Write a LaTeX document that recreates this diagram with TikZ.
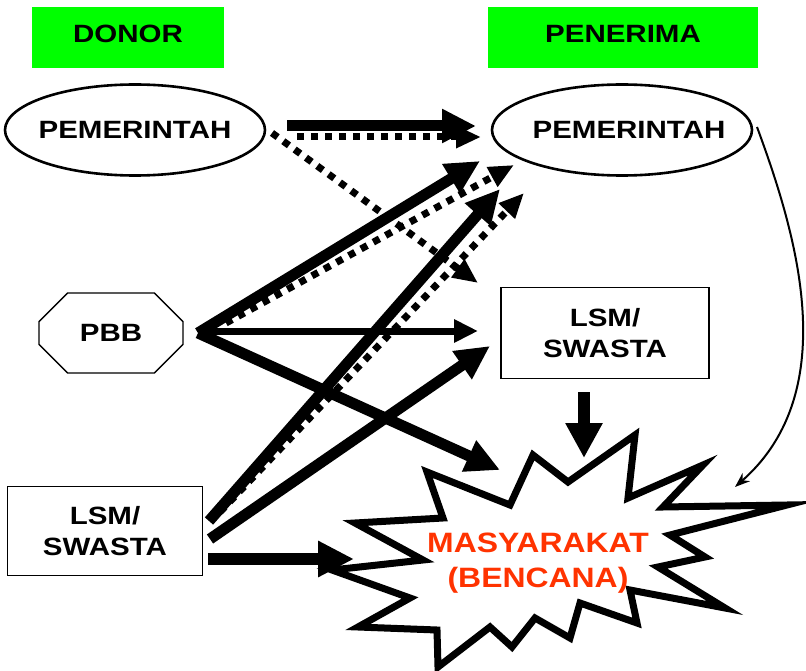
\documentclass[tikz,border=0pt]{standalone}
\usepackage{fontspec}
\setmainfont{Liberation Sans}[FakeStretch=1.18]
\newfontfamily\burstfont{Liberation Sans}[FakeStretch=1.14]
\usetikzlibrary{arrows.meta,shapes.geometric,shapes.misc}
\definecolor{hdrgreen}{RGB}{0,255,0}
\definecolor{disaster}{RGB}{255,51,0}
\begin{document}
\begin{tikzpicture}[x=1pt,y=-1pt,
  lbl/.style={font=\fontsize{25}{31}\selectfont\bfseries, align=center, inner sep=0pt},
  hdr/.style={lbl, fill=hdrgreen, minimum height=61pt, text depth=8pt},
  oval/.style={lbl, draw, ellipse, line width=2.6pt, minimum width=260pt, minimum height=91pt},
  box/.style={lbl, draw, line width=1.4pt},
  bigarrow/.style={line width=11pt, -{Triangle[length=34pt,width=32pt]}},
  midarrow/.style={line width=7pt, -{Triangle[length=24pt,width=22pt]}},
  dotarrow/.style={line width=7pt, dash pattern=on 7pt off 7pt, -{Triangle[length=25pt,width=21pt]}},
  thinarrow/.style={line width=2pt, -{Stealth[length=15pt,width=11pt]}},
  burst/.style={line width=7pt, fill=white, line join=miter}
]
\useasboundingbox (0,0) rectangle (806,671);

% headers
\node[hdr, minimum width=192pt] (donor) at (128,37.5) {DONOR};
\node[hdr, minimum width=270pt] (penerima) at (623,37.5) {PENERIMA};

% donor side
\node[oval] (pemL) at (135,130) {\makebox[150pt]{PEMERINTAH}};
\node[lbl, draw, line width=1.4pt, chamfered rectangle,
      chamfered rectangle xsep=23pt, chamfered rectangle ysep=20pt,
      minimum width=144pt, minimum height=80pt] (pbb) at (111,333) {PBB};
\node[box, minimum width=195pt, minimum height=89pt] (lsmL) at (105,531) {LSM/\\SWASTA};

% receiving side
\node[oval] (pemR) at (622,130) {\makebox[150pt]{\hspace*{14pt}PEMERINTAH}};
\node[box, minimum width=208pt, minimum height=91pt] (lsmR) at (605,333) {LSM/\\SWASTA};

% the affected community
\draw[burst] (355,523) -- (443,518) -- (427,472) -- (510,505) -- (533,455)
  -- (568,482) -- (635,435) -- (628,498) -- (703,465) -- (663,507)
  -- (787,505) -- (670,535) -- (705,557) -- (658,567) -- (725,608)
  -- (630,590) -- (637,623) -- (580,603) -- (570,638) -- (535,618)
  -- (512,647) -- (490,627) -- (438,667) -- (437,630) -- (358,627)
  -- (410,598) -- (332,570) -- (423,560) -- cycle;
\node[font=\fontsize{28}{35}\burstfont\bfseries, text=disaster, align=center, inner sep=0pt]
  (masy) at (538,563) {MASYARAKAT\\(BENCANA)};

% connector end points
\coordinate (gS1) at (287,126);  \coordinate (gT1) at (476,126);
\coordinate (gS2) at (297,137);  \coordinate (gT2) at (481,137);
\coordinate (gS3) at (272,133);  \coordinate (gT3) at (478,283);
\coordinate (pS)  at (198,333);
\coordinate (pT1) at (480,161);
\coordinate (pS2) at (226,323);  \coordinate (pT2) at (514,165);
\coordinate (pS3) at (205,331);  \coordinate (pT3) at (478,331);
\coordinate (pT4) at (500,470);
\coordinate (lS1) at (209,521);  \coordinate (lT1) at (500,189);
\coordinate (lS2) at (220,512);  \coordinate (lT2) at (524,193);
\coordinate (lS3) at (210,539);  \coordinate (lT3) at (490,346);
\coordinate (lS4) at (208,559);  \coordinate (lT4) at (354,559);
\coordinate (rS)  at (584,392);  \coordinate (rT)  at (584,458);
\coordinate (cS)  at (757,127);  \coordinate (cT)  at (735,487);

% government donor
\draw[bigarrow] (gS1) -- (gT1);
\draw[dotarrow] (gS2) -- (gT2);
\draw[dotarrow] (gS3) -- (gT3);

% UN agencies
\draw[bigarrow] (pS) -- (pT1);
\draw[dotarrow] (pS2) -- (pT2);
\draw[midarrow] (pS3) -- (pT3);
\draw[bigarrow] (pS) -- (pT4);

% NGO / private donor
\draw[bigarrow] (lS1) -- (lT1);
\draw[dotarrow] (lS2) -- (lT2);
\draw[bigarrow] (lS3) -- (lT3);
\draw[line width=12pt, -{Triangle[length=36pt,width=34pt]}] (lS4) -- (lT4);

% receiving side to the community
\draw[line width=12pt, -{Triangle[length=35pt,width=35pt]}] (rS) -- (rT);
\draw[thinarrow] (cS) .. controls (795,230) and (845,390) .. (cT);
\end{tikzpicture}
\end{document}
